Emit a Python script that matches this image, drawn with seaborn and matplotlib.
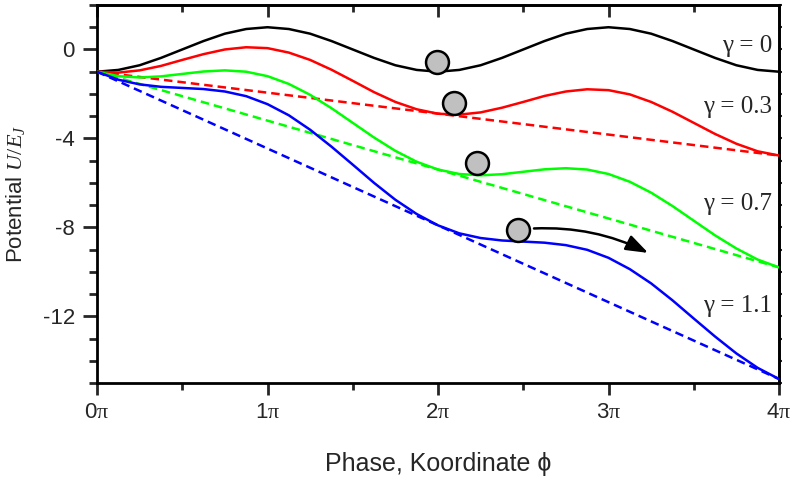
import numpy as np
import pandas as pd
import matplotlib
matplotlib.use("Agg")
import matplotlib.pyplot as plt
import seaborn as sns
from matplotlib.ticker import MultipleLocator

# ---- data (phase in units of pi) ----
phase_pi = [0.0, 0.125, 0.25, 0.375, 0.5, 0.625, 0.75, 0.875,
            1.0, 1.125, 1.25, 1.375, 1.5, 1.625, 1.75, 1.875,
            2.0, 2.125, 2.25, 2.375, 2.5, 2.625, 2.75, 2.875,
            3.0, 3.125, 3.25, 3.375, 3.5, 3.625, 3.75, 3.875, 4.0]

U_g00 = [-1.00, -0.92, -0.71, -0.38, 0.00, 0.38, 0.71, 0.92,
         1.00, 0.92, 0.71, 0.38, 0.00, -0.38, -0.71, -0.92,
         -1.00, -0.92, -0.71, -0.38, 0.00, 0.38, 0.71, 0.92,
         1.00, 0.92, 0.71, 0.38, 0.00, -0.38, -0.71, -0.92, -1.00]
U_g03 = [-1.00, -1.04, -0.94, -0.74, -0.47, -0.21, 0.00, 0.10,
         0.06, -0.14, -0.47, -0.91, -1.41, -1.92, -2.36, -2.69,
         -2.89, -2.93, -2.83, -2.62, -2.36, -2.09, -1.89, -1.79,
         -1.83, -2.02, -2.36, -2.80, -3.30, -3.80, -4.24, -4.58, -4.77]
U_g07 = [-1.00, -1.20, -1.26, -1.21, -1.10, -0.99, -0.94, -1.00,
         -1.20, -1.55, -2.04, -2.64, -3.30, -3.96, -4.56, -5.05,
         -5.40, -5.60, -5.66, -5.61, -5.50, -5.39, -5.34, -5.40,
         -5.60, -5.95, -6.44, -7.04, -7.70, -8.36, -8.95, -9.45, -9.80]
U_g11 = [-1.00, -1.36, -1.57, -1.68, -1.73, -1.78, -1.89, -2.10,
         -2.46, -2.96, -3.61, -4.37, -5.18, -6.00, -6.76, -7.40,
         -7.91, -8.27, -8.48, -8.59, -8.64, -8.69, -8.80, -9.01,
         -9.37, -9.88, -10.52, -11.28, -12.10, -12.91, -13.67, -14.32, -14.82]

tilt_x = [0.0, 4.0]
tilt_g03 = [-1.00, -4.77]
tilt_g07 = [-1.00, -9.80]
tilt_g11 = [-1.00, -14.82]

gamma_labels = ["\u03b3 = 0", "\u03b3 = 0.3", "\u03b3 = 0.7", "\u03b3 = 1.1"]
gamma_label_y = [0.15, -2.6, -6.96, -11.55]
colors = ["#000000", "#ff0000", "#00ff00", "#0000ff"]

ball_x = [1.994, 2.092, 2.231, 2.471]
ball_y = [-0.57, -2.41, -5.11, -8.10]
arrow_start = (2.563, -8.05)
arrow_end = (3.233, -9.15)

xtick_labels = ["0$\\mathrm{\\pi}$", "1$\\mathrm{\\pi}$", "2$\\mathrm{\\pi}$",
                "3$\\mathrm{\\pi}$", "4$\\mathrm{\\pi}$"]

# ---- style ----
sns.set_style("ticks")
plt.rcParams["font.family"] = ["Liberation Sans", "DejaVu Sans"]
plt.rcParams["mathtext.fontset"] = "custom"
plt.rcParams["mathtext.it"] = "Liberation Serif:italic"
plt.rcParams["mathtext.rm"] = "Liberation Serif"
plt.rcParams["axes.unicode_minus"] = False

fig = plt.figure(figsize=(7.91, 4.80), dpi=100)
ax = fig.add_axes([97 / 791, 1 - 383 / 480, (779 - 97) / 791, (383 - 5) / 480])

lw = 1.8
curves = [U_g00, U_g03, U_g07, U_g11]
for U, c in zip(curves, colors):
    sns.lineplot(x=phase_pi, y=U, color=c, lw=lw, ax=ax, sort=False,
                 estimator=None, zorder=3)
for T, c in zip([tilt_g03, tilt_g07, tilt_g11], colors[1:]):
    sns.lineplot(x=tilt_x, y=T, color=c, lw=lw, ax=ax, sort=False,
                 estimator=None, linestyle=(0, (3.4, 2.0)), zorder=2)

sns.scatterplot(x=ball_x, y=ball_y, s=272, color="#c0c0c0",
                edgecolor="black", linewidth=1.8, ax=ax, zorder=6)

ax.annotate("", xy=arrow_end, xytext=arrow_start,
            arrowprops=dict(arrowstyle="-|>,head_length=0.9,head_width=0.32",
                            connectionstyle="arc3,rad=-0.13",
                            color="black", lw=1.8, shrinkA=0, shrinkB=0,
                            mutation_scale=15),
            zorder=7)

for lab, yy in zip(gamma_labels, gamma_label_y):
    ax.text(3.96, yy, lab, ha="right", va="center", fontsize=18,
            family="Liberation Serif", zorder=8)

ax.set_xlim(0, 4)
ax.set_ylim(-15, 2)
ax.xaxis.set_major_locator(MultipleLocator(1))
ax.xaxis.set_minor_locator(MultipleLocator(0.5))
ax.yaxis.set_major_locator(MultipleLocator(4))
ax.yaxis.set_minor_locator(MultipleLocator(1))
ax.set_xticks([0, 1, 2, 3, 4])
ax.set_xticklabels(xtick_labels)

for s in ax.spines.values():
    s.set_linewidth(2.0)
    s.set_color("black")
    s.set_visible(True)

ax.tick_params(axis="x", which="major", direction="out", length=8.6,
               width=2.0, labelsize=16, pad=5, top=False)
ax.tick_params(axis="x", which="minor", direction="out", length=5,
               width=2.0, top=False)
ax.tick_params(axis="y", which="major", direction="out", length=10,
               width=2.0, labelsize=16, pad=6, right=False)
ax.tick_params(axis="y", which="minor", direction="out", length=5.8,
               width=2.0, right=False)

secx = ax.secondary_xaxis("top")
secx.xaxis.set_major_locator(MultipleLocator(1))
secx.xaxis.set_minor_locator(MultipleLocator(0.5))
secx.tick_params(which="major", direction="in", length=8.6, width=2.0,
                 labeltop=False)
secx.tick_params(which="minor", direction="in", length=5, width=2.0)
secx.spines["top"].set_linewidth(2.0)

secy = ax.secondary_yaxis("right")
secy.yaxis.set_major_locator(MultipleLocator(1))
secy.tick_params(which="major", direction="out", length=2.5, width=1.5,
                 labelright=False)
secy.spines["right"].set_linewidth(2.0)

ax.set_xlabel("Phase, Koordinate \u03d5", fontsize=18)
ax.set_ylabel("Potential $U/E_J$", fontsize=16)
ax.xaxis.set_label_coords(0.5, -0.214)
ax.xaxis.label.set_va("center")
ax.yaxis.set_label_coords(-0.119, 0.50)
ax.yaxis.label.set_va("center")

fig.savefig("out.png", dpi=100)
